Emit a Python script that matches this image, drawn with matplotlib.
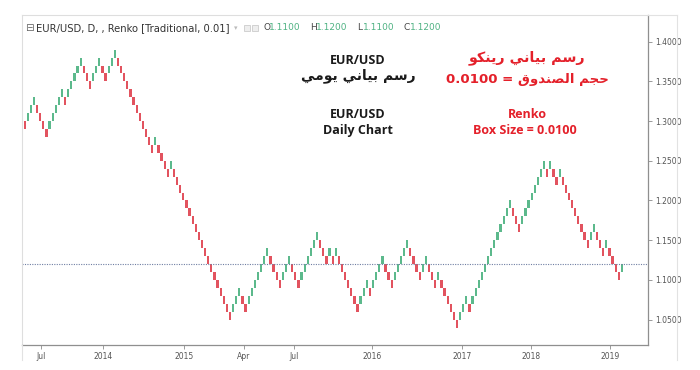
import matplotlib
matplotlib.use("Agg")
import matplotlib.pyplot as plt
from matplotlib.lines import Line2D
from matplotlib.patches import Rectangle

# ---------------- data ----------------
box_size = 0.01
brick_bottom = [
    1.29, 1.30, 1.31, 1.32, 1.31, 1.30, 1.29, 1.28, 1.29, 1.30,
    1.31, 1.32, 1.33, 1.32, 1.33, 1.34, 1.35, 1.36, 1.37, 1.36,
    1.35, 1.34, 1.35, 1.36, 1.37, 1.36, 1.35, 1.36, 1.37, 1.38,
    1.37, 1.36, 1.35, 1.34, 1.33, 1.32, 1.31, 1.30, 1.29, 1.28,
    1.27, 1.26, 1.27, 1.26, 1.25, 1.24, 1.23, 1.24, 1.23, 1.22,
    1.21, 1.20, 1.19, 1.18, 1.17, 1.16, 1.15, 1.14, 1.13, 1.12,
    1.11, 1.10, 1.09, 1.08, 1.07, 1.06, 1.05, 1.06, 1.07, 1.08,
    1.07, 1.06, 1.07, 1.08, 1.09, 1.10, 1.11, 1.12, 1.13, 1.12,
    1.11, 1.10, 1.09, 1.10, 1.11, 1.12, 1.11, 1.10, 1.09, 1.10,
    1.11, 1.12, 1.13, 1.14, 1.15, 1.14, 1.13, 1.12, 1.13, 1.12,
    1.13, 1.12, 1.11, 1.10, 1.09, 1.08, 1.07, 1.06, 1.07, 1.08,
    1.09, 1.08, 1.09, 1.10, 1.11, 1.12, 1.11, 1.10, 1.09, 1.10,
    1.11, 1.12, 1.13, 1.14, 1.13, 1.12, 1.11, 1.10, 1.11, 1.12,
    1.11, 1.10, 1.09, 1.10, 1.09, 1.08, 1.07, 1.06, 1.05, 1.04,
    1.05, 1.06, 1.07, 1.06, 1.07, 1.08, 1.09, 1.10, 1.11, 1.12,
    1.13, 1.14, 1.15, 1.16, 1.17, 1.18, 1.19, 1.18, 1.17, 1.16,
    1.17, 1.18, 1.19, 1.20, 1.21, 1.22, 1.23, 1.24, 1.23, 1.24,
    1.23, 1.22, 1.23, 1.22, 1.21, 1.20, 1.19, 1.18, 1.17, 1.16,
    1.15, 1.14, 1.15, 1.16, 1.15, 1.14, 1.13, 1.14, 1.13, 1.12,
    1.11, 1.10, 1.11,
]
first_brick_up = False
last_price = 1.12
y_ticks = [1.05, 1.10, 1.15, 1.20, 1.25, 1.30, 1.35, 1.40]
x_tick_pos = [5.2, 25.2, 51.2, 70.5, 86.5, 111.7, 140.6, 162.8, 188.2]
x_tick_labels = ["Jul", "2014", "2015", "Apr", "Jul", "2016", "2017", "2018", "2019"]
ohlc_labels = ["O", "H", "L", "C"]
ohlc_values = ["1.1100", "1.1200", "1.1100", "1.1200"]

# --------------- figure ---------------
W, H = 700, 370
fig = plt.figure(figsize=(W / 100, H / 100), dpi=100)
fig.patch.set_facecolor("white")

def fx(px):
    return px / W

def fy(py):
    return 1 - py / H

ax = fig.add_axes([fx(22), fy(345), fx(648) - fx(22), fy(15) - fy(345)])

UP = "#5cb98c"
DOWN = "#e2535f"
xs = list(range(len(brick_bottom)))
colors = []
for i, b in enumerate(brick_bottom):
    if i == 0:
        up = first_brick_up
    else:
        up = b > brick_bottom[i - 1]
    colors.append(UP if up else DOWN)

ax.bar(xs, [box_size] * len(xs), bottom=brick_bottom, width=0.72,
       color=colors, edgecolor="none", align="center")

ax.axhline(last_price, color="#6f7fa3", lw=0.8, ls=(0, (1, 1.2)))

ax.set_xlim(-0.87, 200.4)
ax.set_ylim(1.0180, 1.4336)

ax.yaxis.tick_right()
ax.set_yticks(y_ticks)
ax.set_yticklabels([f"{v:.4f}" for v in y_ticks])
ax.set_xticks(x_tick_pos)
ax.set_xticklabels(x_tick_labels)
ax.tick_params(axis="both", labelsize=5.5, colors="#8a8a8a", labelcolor="#555555",
               length=3, width=0.6, pad=2)

for side in ["left", "top"]:
    ax.spines[side].set_color("#dedede")
    ax.spines[side].set_linewidth(0.8)
for side in ["right", "bottom"]:
    ax.spines[side].set_color("#8f8f8f")
    ax.spines[side].set_linewidth(0.9)

# outer widget frame
def fline(x0, y0, x1, y1, c="#e2e2e2", lw=0.8):
    fig.add_artist(Line2D([fx(x0), fx(x1)], [fy(y0), fy(y1)], color=c, lw=lw,
                          transform=fig.transFigure))

fline(648, 15, 677, 15)
fline(677, 15, 677, 360)
fline(22, 345, 22, 360)

# header line
fig.text(fx(25), fy(28), "\u229f", fontsize=7.5, color="#666666", va="center", ha="left")
fig.text(fx(36), fy(28), "EUR/USD, D, , Renko [Traditional, 0.01]", fontsize=7.2,
         color="#333333", va="center", ha="left")
fig.text(fx(234), fy(28), "\u25be", fontsize=5, color="#bbbbbb", va="center", ha="left")
for bx in (244, 252):
    fig.add_artist(Rectangle((fx(bx), fy(31)), fx(6), fy(0) - fy(6),
                             transform=fig.transFigure, facecolor="#eeeeee",
                             edgecolor="#cccccc", lw=0.6))
for k, (lab, val) in enumerate(zip(ohlc_labels, ohlc_values)):
    x0 = 263 + 47 * k
    fig.text(fx(x0), fy(28), lab, fontsize=6.5, color="#444444", va="center", ha="left")
    fig.text(fx(x0 + 6), fy(28), val, fontsize=6.5, color="#4fb283", va="center", ha="left")

# Arabic text in visual order with presentation forms
rasm = "\uFEE2\uFEB3\uFEAD"
bayani = "\uFEF2\uFEE7\uFE8E\uFEF4\uFE91"
yawmi = "\uFEF2\uFEE3\uFEEE\uFEF3"
renko_ar = "\uFEEE\uFEDC\uFEE8\uFEF3\uFEAD"
hajm = "\uFEE2\uFEA0\uFEA3"
sunduq = "\uFED5\uFEED\uFEAA\uFEE8\uFEBC\uFEDF\uFE8D"

black_ar = yawmi + " " + bayani + " " + rasm
red_ar1 = renko_ar + " " + bayani + " " + rasm
red_ar2 = "0.0100 = " + sunduq + " " + hajm

lat = ["Open Sans", "DejaVu Sans"]
arf = ["DejaVu Sans"]
BLK = "#1a1a1a"
RED = "#e4202a"

fig.text(fx(358), fy(60), "EUR/USD", fontsize=9, fontweight="bold", family=lat,
         color=BLK, ha="center", va="center")
fig.text(fx(358), fy(76), black_ar, fontsize=10, fontweight="bold", family=arf,
         color=BLK, ha="center", va="center")
fig.text(fx(358), fy(114), "EUR/USD", fontsize=9, fontweight="bold", family=lat,
         color=BLK, ha="center", va="center")
fig.text(fx(358), fy(131), "Daily Chart", fontsize=9, fontweight="bold", family=lat,
         color=BLK, ha="center", va="center")

fig.text(fx(527), fy(58), red_ar1, fontsize=10.3, fontweight="bold", family=arf,
         color=RED, ha="center", va="center")
fig.text(fx(527), fy(79), red_ar2, fontsize=9.6, fontweight="bold", family=arf,
         color=RED, ha="center", va="center")
fig.text(fx(527), fy(114), "Renko", fontsize=9, fontweight="bold", family=lat,
         color=RED, ha="center", va="center")
fig.text(fx(525), fy(131), "Box Size = 0.0100", fontsize=9, fontweight="bold", family=lat,
         color=RED, ha="center", va="center")

fig.savefig("out.png", dpi=100, facecolor="white")
